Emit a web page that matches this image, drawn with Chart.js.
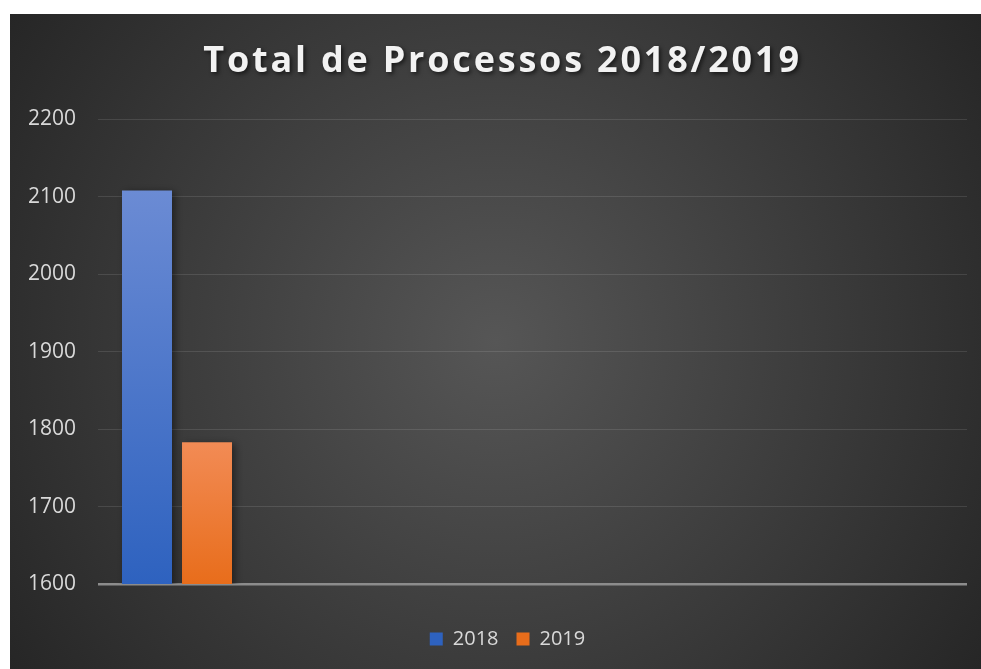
<!DOCTYPE html>
<html>
<head>
<meta charset="utf-8">
<script src="https://cdn.jsdelivr.net/npm/chart.js@4.4.1/dist/chart.umd.min.js"></script>
<style>
  html, body { margin: 0; background: #fff; }
  #wrap { position: absolute; left: 10px; top: 14px; width: 971px; height: 655px; }
</style>
</head>
<body>
<div id="wrap"><canvas id="main-chart"></canvas></div>
<script>
let chartTitle = 'Total de Processos 2018/2019';
let categories = ['Total'];
let seriesNames = ['2018', '2019'];
let values2018 = [2108];
let values2019 = [1783];
let yMin = 1600, yMax = 2200, yStep = 100;

// gradients per series: top colour, bottom colour
let shades = [['#6b8bd4', '#2e62bf'], ['#f28b55', '#e86d1b']];

let ctx = document.getElementById('main-chart');

function barFill(idx) {
    return function (c) {
        let chart = c.chart;
        let area = chart.chartArea;
        if (!area || c.parsed === undefined) return shades[idx][1];
        let top = chart.scales.y.getPixelForValue(c.parsed.y);
        let g = chart.ctx.createLinearGradient(0, top, 0, area.bottom);
        g.addColorStop(0, shades[idx][0]);
        g.addColorStop(1, shades[idx][1]);
        return g;
    };
}

let background = {
    id: 'background',
    beforeDraw(chart) {
        let c = chart.ctx, w = chart.width, h = chart.height;
        let g = c.createRadialGradient(w / 2, h / 2, 0, w / 2, h / 2, Math.sqrt(w * w + h * h) / 2);
        g.addColorStop(0, '#565656');
        g.addColorStop(1, '#262626');
        c.save();
        c.fillStyle = g;
        c.fillRect(0, 0, w, h);
        c.restore();
    }
};

// letter spacing + soft shadow on the title, legend nudge, shadow on the bars
let touches = {
    id: 'touches',
    afterLayout(chart) {
        let block = chart.titleBlock;
        if (block && !block._wrapped) {
            let orig = block.draw;
            block.draw = function () {
                let c = chart.ctx;
                c.save();
                c.translate(5, 0);
                c.letterSpacing = '2.8px';
                c.shadowColor = 'rgba(0,0,0,0.6)';
                c.shadowBlur = 4;
                c.shadowOffsetX = 2;
                c.shadowOffsetY = 2;
                orig.apply(this, arguments);
                c.restore();
            };
            block._wrapped = true;
        }
        let legend = chart.legend;
        if (legend && !legend._wrapped) {
            let origL = legend.draw;
            legend.draw = function () {
                let c = chart.ctx;
                c.save();
                c.translate(10, 0);
                origL.apply(this, arguments);
                c.restore();
            };
            legend._wrapped = true;
        }
    },
    beforeDatasetsDraw(chart) {
        let c = chart.ctx;
        c.save();
        c.shadowColor = 'rgba(0,0,0,0.45)';
        c.shadowBlur = 8;
        c.shadowOffsetX = 3;
        c.shadowOffsetY = 2;
    },
    afterDatasetsDraw(chart) {
        chart.ctx.restore();
    }
};

let data = {
    datasets: [
        {
            label: seriesNames[0],
            data: categories.map((c, i) => ({ x: i, y: values2018[i] })),
            backgroundColor: barFill(0)
        },
        {
            label: seriesNames[1],
            data: categories.map((c, i) => ({ x: i, y: values2019[i] })),
            backgroundColor: barFill(1)
        }
    ]
};

let options = {
    maintainAspectRatio: false,
    responsive: true,
    animation: false,
    layout: { padding: { left: 18, right: 14, top: 0, bottom: 10 } },
    datasets: { bar: { categoryPercentage: 0.1381, barPercentage: 0.8333 } },
    scales: {
        x: {
            type: 'linear',
            min: -0.5,
            max: 5,
            offset: false,
            display: true,
            grid: { display: false },
            border: { display: false },
            ticks: { count: 2, display: false },
            afterFit(scale) { scale.height = 27; }
        },
        y: {
            min: yMin,
            max: yMax,
            border: { display: false },
            grid: {
                drawTicks: false,
                color: c => c.tick && c.tick.value === yMin ? '#8c8c8c' : 'rgba(255,255,255,0.11)',
                lineWidth: c => c.tick && c.tick.value === yMin ? 2.5 : 1
            },
            ticks: {
                stepSize: yStep,
                padding: 22,
                color: '#d9d9d9',
                font: { family: 'Open Sans', size: 21 },
                callback: v => String(v)
            },
            afterFit(scale) { scale.width = 70; }
        }
    },
    plugins: {
        title: {
            display: true,
            text: chartTitle,
            color: '#f2f2f2',
            font: { family: 'Open Sans', size: 36, weight: 'bold' },
            padding: { top: 26, bottom: 36 }
        },
        legend: {
            position: 'bottom',
            labels: {
                color: '#d9d9d9',
                font: { family: 'Open Sans', size: 20 },
                boxWidth: 13,
                boxHeight: 13,
                padding: 18,
                generateLabels(chart) {
                    return chart.data.datasets.map((ds, i) => ({
                        text: ds.label,
                        fillStyle: shades[i][1],
                        strokeStyle: shades[i][1],
                        lineWidth: 0,
                        fontColor: '#d9d9d9',
                        datasetIndex: i
                    }));
                }
            }
        },
        tooltip: { enabled: false }
    }
};

let myChart = new Chart(ctx, {
    type: 'bar',
    data: data,
    options: options,
    plugins: [background, touches]
});
</script>
</body>
</html>
